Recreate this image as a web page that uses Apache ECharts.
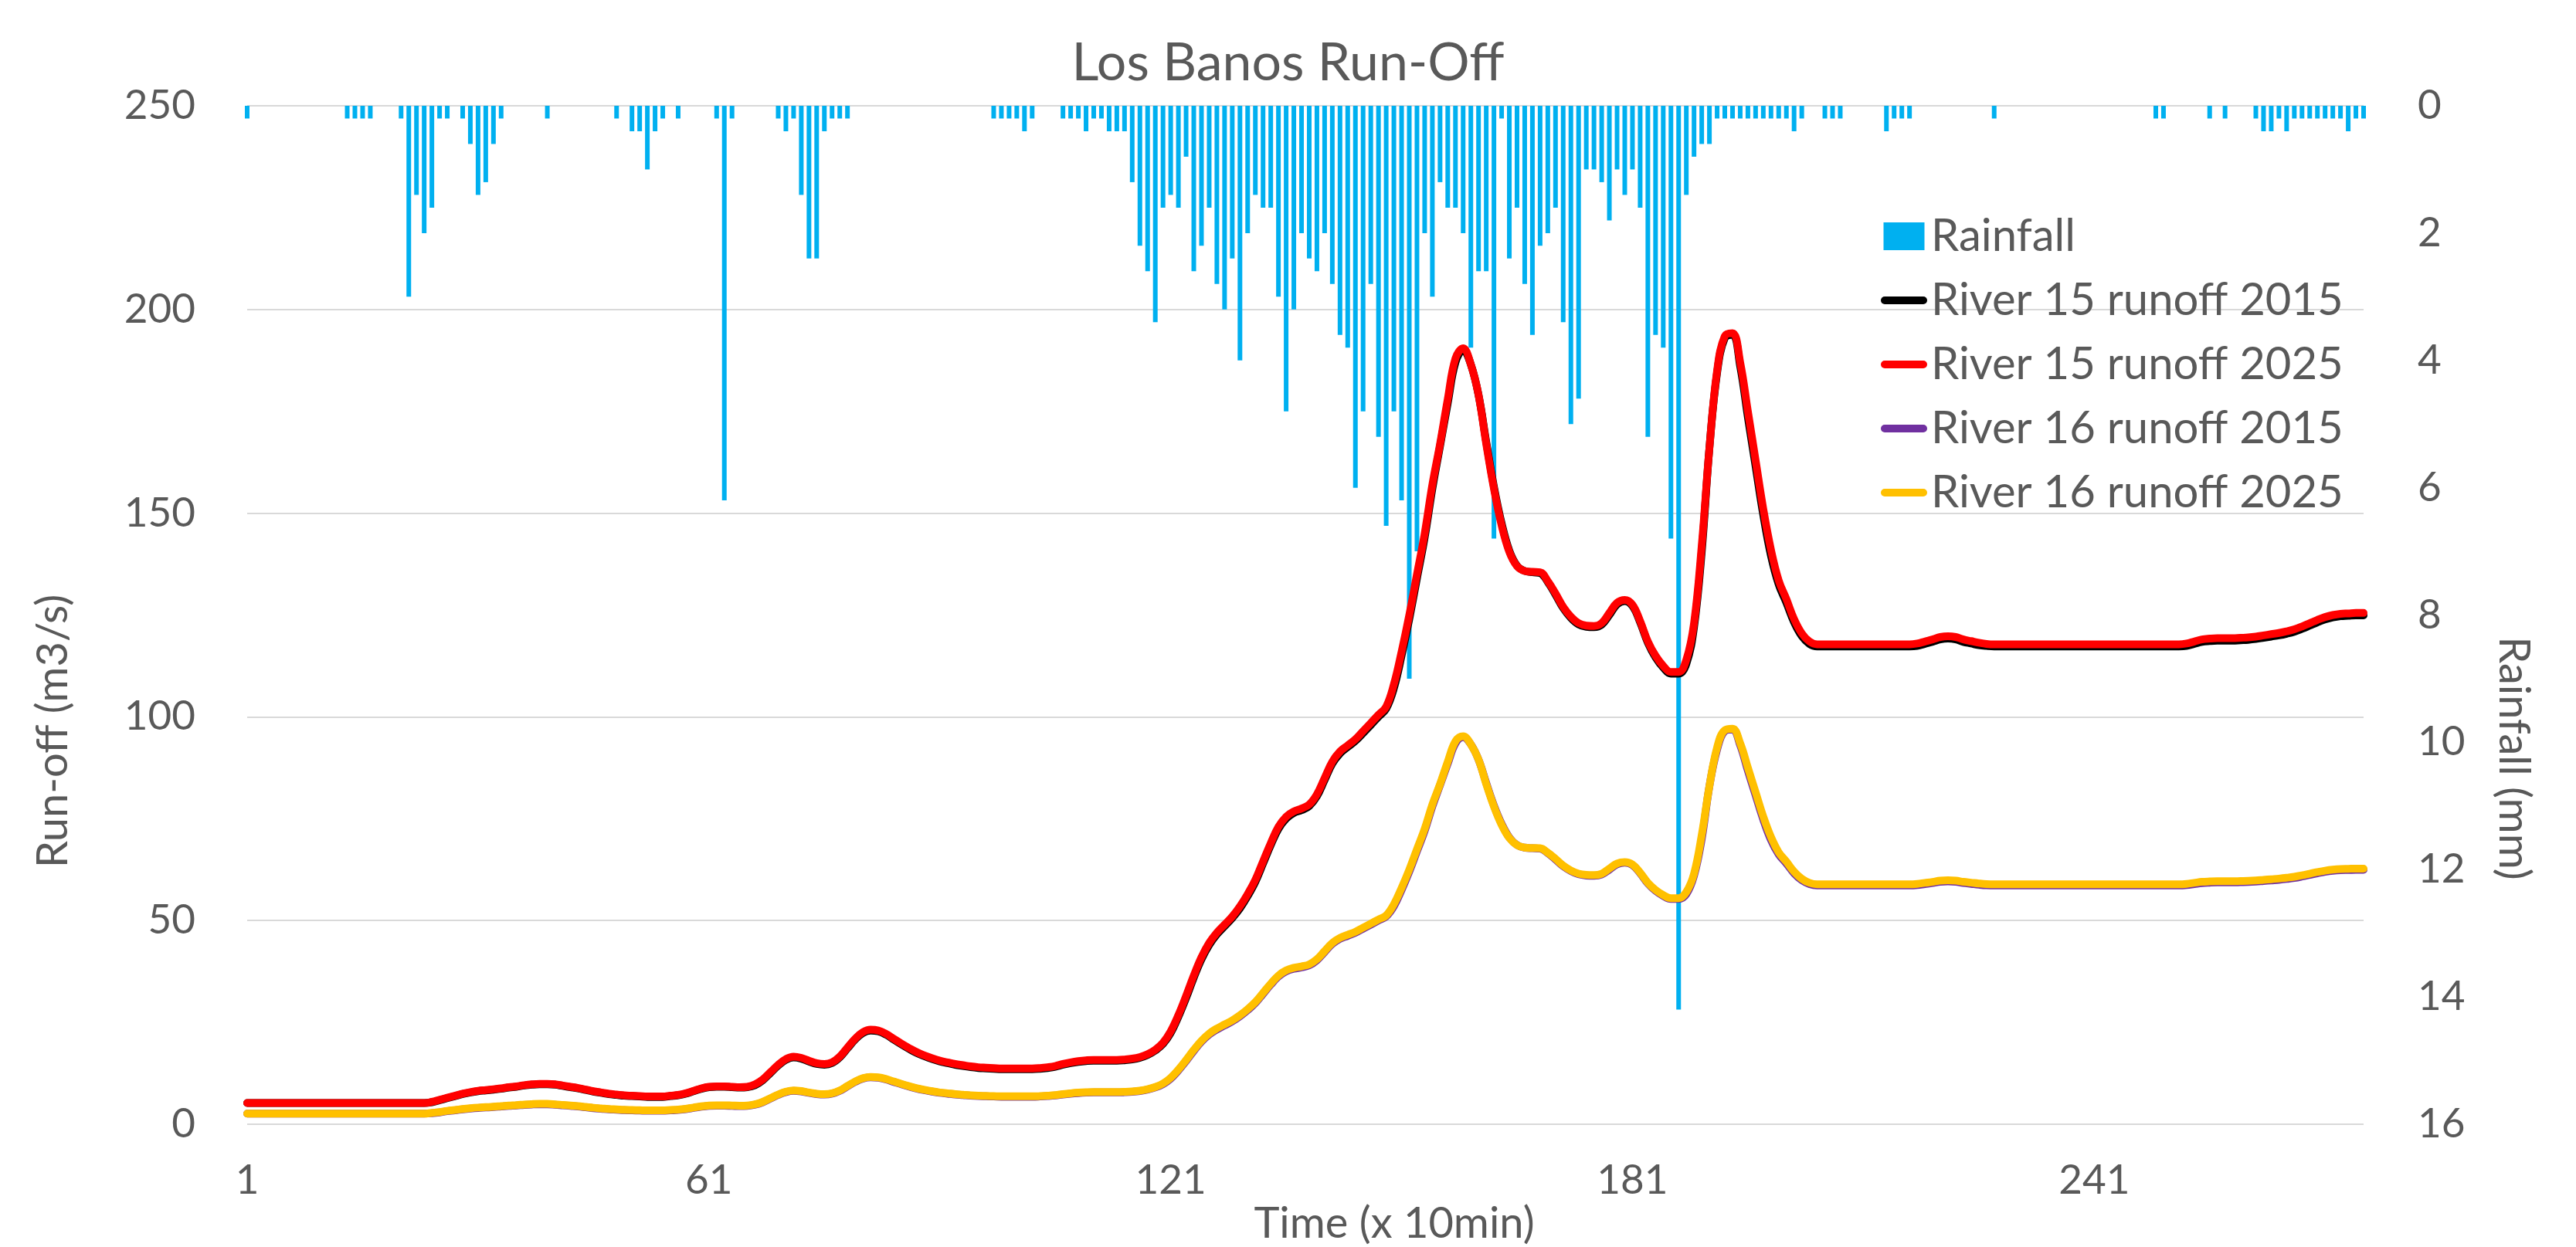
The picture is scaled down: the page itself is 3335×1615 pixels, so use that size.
<!DOCTYPE html>
<html>
<head>
<meta charset="utf-8">
<title>Los Banos Run-Off</title>
<script src="https://cdn.jsdelivr.net/npm/echarts@6/dist/echarts.min.js"></script>
<style>
  html, body { margin: 0; padding: 0; background: #fff; }
  #chart { width: 3335px; height: 1615px; }
</style>
</head>
<body>
<div id="chart"></div>
<script>
// time steps (x 10 min)
const timeSteps = Array.from({ length: 276 }, (_, i) => String(i + 1));

// rainfall per step (mm), drawn on the inverted right axis
const rainfall = [
  0.2, 0, 0, 0, 0, 0, 0, 0, 0, 0,
  0, 0, 0, 0.2, 0.2, 0.2, 0.2, 0, 0, 0,
  0.2, 3.0, 1.4, 2.0, 1.6, 0.2, 0.2, 0, 0.2, 0.6,
  1.4, 1.2, 0.6, 0.2, 0, 0, 0, 0, 0, 0.2,
  0, 0, 0, 0, 0, 0, 0, 0, 0.2, 0,
  0.4, 0.4, 1.0, 0.4, 0.2, 0, 0.2, 0, 0, 0,
  0, 0.2, 6.2, 0.2, 0, 0, 0, 0, 0, 0.2,
  0.4, 0.2, 1.4, 2.4, 2.4, 0.4, 0.2, 0.2, 0.2, 0,
  0, 0, 0, 0, 0, 0, 0, 0, 0, 0,
  0, 0, 0, 0, 0, 0, 0, 0.2, 0.2, 0.2,
  0.2, 0.4, 0.2, 0, 0, 0, 0.2, 0.2, 0.2, 0.4,
  0.2, 0.2, 0.4, 0.4, 0.4, 1.2, 2.2, 2.6, 3.4, 1.6,
  1.4, 1.6, 0.8, 2.6, 2.2, 1.6, 2.8, 3.2, 2.4, 4.0,
  2.0, 1.4, 1.6, 1.6, 3.0, 4.8, 3.2, 2.0, 2.4, 2.6,
  2.0, 2.8, 3.6, 3.8, 6.0, 4.8, 2.8, 5.2, 6.6, 4.8,
  6.2, 9.0, 7.0, 2.0, 3.0, 1.2, 1.6, 1.6, 2.0, 3.8,
  2.6, 2.6, 6.8, 0.2, 2.4, 1.6, 2.8, 3.6, 2.2, 2.0,
  1.6, 3.4, 5.0, 4.6, 1.0, 1.0, 1.2, 1.8, 1.0, 1.4,
  1.0, 1.6, 5.2, 3.6, 3.8, 6.8, 14.2, 1.4, 0.8, 0.6,
  0.6, 0.2, 0.2, 0.2, 0.2, 0.2, 0.2, 0.2, 0.2, 0.2,
  0.2, 0.4, 0.2, 0, 0, 0.2, 0.2, 0.2, 0, 0,
  0, 0, 0, 0.4, 0.2, 0.2, 0.2, 0, 0, 0,
  0, 0, 0, 0, 0, 0, 0, 0.2, 0, 0,
  0, 0, 0, 0, 0, 0, 0, 0, 0, 0,
  0, 0, 0, 0, 0, 0, 0, 0, 0.2, 0.2,
  0, 0, 0, 0, 0, 0.2, 0, 0.2, 0, 0,
  0, 0.2, 0.4, 0.4, 0.2, 0.4, 0.2, 0.2, 0.2, 0.2,
  0.2, 0.2, 0.2, 0.4, 0.2, 0.2
];

// River 15 runoff (m3/s)
const river15_2015 = [
  5.2, 5.2, 5.2, 5.2, 5.2, 5.2, 5.2, 5.2, 5.2, 5.2,
  5.2, 5.2, 5.2, 5.2, 5.2, 5.2, 5.2, 5.2, 5.2, 5.2,
  5.2, 5.2, 5.2, 5.2, 5.4, 5.9, 6.4, 6.9, 7.4, 7.8,
  8.1, 8.3, 8.5, 8.7, 9.0, 9.2, 9.5, 9.7, 9.8, 9.8,
  9.7, 9.4, 9.1, 8.8, 8.4, 8.0, 7.7, 7.4, 7.2, 7.0,
  6.9, 6.8, 6.7, 6.7, 6.7, 6.9, 7.1, 7.5, 8.1, 8.7,
  9.1, 9.2, 9.2, 9.1, 9.0, 9.1, 9.6, 10.8, 12.6, 14.4,
  15.8, 16.4, 16.1, 15.4, 14.8, 14.6, 15.0, 16.4, 18.6, 20.8,
  22.4, 23.0, 22.8, 22.0, 20.8, 19.6, 18.5, 17.5, 16.7, 16.0,
  15.4, 15.0, 14.6, 14.3, 14.0, 13.8, 13.7, 13.6, 13.5, 13.5,
  13.5, 13.5, 13.5, 13.6, 13.8, 14.1, 14.6, 15.0, 15.3, 15.5,
  15.6, 15.6, 15.6, 15.6, 15.7, 15.9, 16.3, 17.0, 18.1, 19.7,
  22.4, 26.4, 31.0, 36.0, 40.5, 44.0, 46.6, 48.6, 50.6, 53.0,
  56.0, 59.5, 64.0, 68.5, 72.5, 75.0, 76.4, 77.1, 78.1, 80.5,
  84.5, 88.5, 91.0, 92.6, 94.1, 96.0, 98.0, 100.0, 102.0, 107.0,
  115.0, 124.0, 134.0, 144.0, 156.0, 166.5, 177.0, 187.0, 190.0, 186.5,
  179.0, 167.5, 156.5, 147.5, 140.8, 137.1, 135.8, 135.5, 135.3, 133.1,
  130.0, 126.7, 124.3, 122.7, 122.1, 122.0, 122.6, 125.0, 127.6, 128.4,
  127.2, 123.2, 118.2, 114.6, 112.1, 110.6, 110.6, 113.0, 122.0, 140.5,
  166.0, 184.5, 193.0, 193.8, 186.0, 173.5, 161.5, 149.5, 139.5, 132.5,
  128.0, 123.2, 119.8, 117.9, 117.3, 117.3, 117.3, 117.3, 117.3, 117.3,
  117.3, 117.3, 117.3, 117.3, 117.3, 117.3, 117.3, 117.4, 117.9, 118.4,
  119.0, 119.2, 119.0, 118.4, 118.0, 117.6, 117.4, 117.3, 117.3, 117.3,
  117.3, 117.3, 117.3, 117.3, 117.3, 117.3, 117.3, 117.3, 117.3, 117.3,
  117.3, 117.3, 117.3, 117.3, 117.3, 117.3, 117.3, 117.3, 117.3, 117.3,
  117.3, 117.3, 117.4, 117.9, 118.4, 118.6, 118.7, 118.7, 118.7, 118.8,
  118.9, 119.1, 119.4, 119.7, 120.0, 120.4, 120.9, 121.6, 122.4, 123.2,
  123.9, 124.4, 124.7, 124.8, 124.9, 124.9
];

const river15_2025 = [
  5.2, 5.2, 5.2, 5.2, 5.2, 5.2, 5.2, 5.2, 5.2, 5.2,
  5.2, 5.2, 5.2, 5.2, 5.2, 5.2, 5.2, 5.2, 5.2, 5.2,
  5.2, 5.2, 5.2, 5.2, 5.5, 6.0, 6.5, 7.0, 7.5, 7.9,
  8.2, 8.4, 8.6, 8.8, 9.1, 9.3, 9.6, 9.8, 9.9, 9.9,
  9.8, 9.5, 9.2, 8.9, 8.5, 8.1, 7.8, 7.5, 7.3, 7.1,
  7.0, 6.9, 6.8, 6.8, 6.8, 7.0, 7.2, 7.6, 8.2, 8.8,
  9.2, 9.3, 9.3, 9.2, 9.1, 9.2, 9.8, 11.0, 12.8, 14.6,
  16.0, 16.6, 16.3, 15.6, 15.0, 14.8, 15.2, 16.6, 18.8, 21.0,
  22.6, 23.2, 23.0, 22.2, 21.0, 19.8, 18.7, 17.7, 16.9, 16.2,
  15.6, 15.2, 14.8, 14.5, 14.2, 14.0, 13.9, 13.8, 13.7, 13.7,
  13.7, 13.7, 13.7, 13.8, 14.0, 14.3, 14.8, 15.2, 15.5, 15.7,
  15.8, 15.8, 15.8, 15.8, 15.9, 16.1, 16.5, 17.2, 18.3, 20.0,
  22.8, 26.8, 31.5, 36.5, 41.0, 44.5, 47.0, 49.0, 51.0, 53.5,
  56.5, 60.0, 64.5, 69.0, 73.0, 75.5, 76.8, 77.5, 78.5, 81.0,
  85.0, 89.0, 91.5, 93.0, 94.5, 96.5, 98.5, 100.5, 102.5, 108.0,
  116.0, 125.0, 135.0, 145.0, 157.0, 167.0, 178.0, 188.0, 190.5, 186.5,
  179.0, 167.0, 156.0, 147.0, 140.5, 137.0, 135.8, 135.6, 135.5, 133.3,
  130.3, 127.0, 124.6, 123.0, 122.4, 122.3, 123.0, 125.5, 128.0, 128.7,
  127.5, 123.5, 118.5, 115.0, 112.5, 111.0, 111.0, 114.0, 123.0, 142.0,
  166.0, 185.0, 193.5, 194.2, 187.0, 175.0, 163.0, 151.0, 141.0, 133.5,
  128.9, 124.0, 120.5, 118.5, 117.8, 117.8, 117.8, 117.8, 117.8, 117.8,
  117.8, 117.8, 117.8, 117.8, 117.8, 117.8, 117.8, 118.0, 118.5, 119.0,
  119.6, 119.8, 119.6, 119.0, 118.6, 118.2, 117.9, 117.8, 117.8, 117.8,
  117.8, 117.8, 117.8, 117.8, 117.8, 117.8, 117.8, 117.8, 117.8, 117.8,
  117.8, 117.8, 117.8, 117.8, 117.8, 117.8, 117.8, 117.8, 117.8, 117.8,
  117.8, 117.8, 118.0, 118.5, 119.0, 119.2, 119.3, 119.3, 119.3, 119.4,
  119.5, 119.7, 120.0, 120.3, 120.6, 121.0, 121.5, 122.2, 123.0, 123.8,
  124.5, 125.0, 125.3, 125.4, 125.5, 125.5
];

// River 16 runoff (m3/s)
const river16_2015 = [
  2.6, 2.6, 2.6, 2.6, 2.6, 2.6, 2.6, 2.6, 2.6, 2.6,
  2.6, 2.6, 2.6, 2.6, 2.6, 2.6, 2.6, 2.6, 2.6, 2.6,
  2.6, 2.6, 2.6, 2.6, 2.7, 2.9, 3.2, 3.4, 3.65, 3.85,
  4.0, 4.1, 4.2, 4.35, 4.5, 4.6, 4.75, 4.85, 4.9, 4.9,
  4.8, 4.65, 4.5, 4.35, 4.15, 3.95, 3.8, 3.65, 3.55, 3.45,
  3.4, 3.35, 3.3, 3.3, 3.3, 3.4, 3.5, 3.7, 4.0, 4.3,
  4.5, 4.55, 4.55, 4.5, 4.45, 4.5, 4.8, 5.4, 6.3, 7.2,
  7.9, 8.2, 8.05, 7.7, 7.4, 7.3, 7.5, 8.2, 9.3, 10.4,
  11.2, 11.5, 11.4, 11.0, 10.4, 9.8, 9.25, 8.75, 8.35, 8.0,
  7.7, 7.5, 7.3, 7.15, 7.0, 6.9, 6.85, 6.8, 6.75, 6.75,
  6.75, 6.75, 6.75, 6.8, 6.9, 7.05, 7.3, 7.5, 7.65, 7.75,
  7.8, 7.8, 7.8, 7.8, 7.85, 7.95, 8.15, 8.5, 9.05, 9.85,
  11.2, 13.2, 15.5, 18.0, 20.25, 22.0, 23.25, 24.25, 25.25, 26.5,
  28.0, 29.75, 32.0, 34.25, 36.25, 37.5, 38.15, 38.5, 39.0, 40.25,
  42.25, 44.25, 45.5, 46.25, 47.0, 48.0, 49.0, 50.0, 51.0, 53.5,
  57.5, 62.0, 67.0, 72.0, 78.0, 83.25, 88.5, 93.5, 95.0, 93.25,
  89.5, 83.75, 78.25, 73.75, 70.4, 68.55, 67.9, 67.75, 67.65, 66.55,
  65.0, 63.35, 62.15, 61.35, 61.05, 61.0, 61.3, 62.5, 63.8, 64.2,
  63.6, 61.6, 59.1, 57.3, 56.05, 55.3, 55.3, 56.5, 61.0, 70.0,
  83.0, 92.0, 96.5, 96.9, 93.0, 86.75, 80.75, 74.75, 69.75, 66.25,
  64.0, 61.6, 59.9, 58.95, 58.6, 58.6, 58.6, 58.6, 58.6, 58.6,
  58.6, 58.6, 58.6, 58.6, 58.6, 58.6, 58.6, 58.7, 58.95, 59.2,
  59.5, 59.6, 59.5, 59.2, 59.0, 58.8, 58.65, 58.6, 58.6, 58.6,
  58.6, 58.6, 58.6, 58.6, 58.6, 58.6, 58.6, 58.6, 58.6, 58.6,
  58.6, 58.6, 58.6, 58.6, 58.6, 58.6, 58.6, 58.6, 58.6, 58.6,
  58.6, 58.6, 58.7, 58.95, 59.2, 59.3, 59.35, 59.35, 59.35, 59.4,
  59.45, 59.55, 59.7, 59.85, 60.0, 60.2, 60.45, 60.8, 61.2, 61.6,
  61.95, 62.2, 62.35, 62.4, 62.45, 62.45
];

const river16_2025 = [
  2.6, 2.6, 2.6, 2.6, 2.6, 2.6, 2.6, 2.6, 2.6, 2.6,
  2.6, 2.6, 2.6, 2.6, 2.6, 2.6, 2.6, 2.6, 2.6, 2.6,
  2.6, 2.6, 2.6, 2.6, 2.8, 3.0, 3.3, 3.5, 3.75, 3.95,
  4.1, 4.2, 4.3, 4.45, 4.6, 4.7, 4.85, 4.95, 5.0, 5.0,
  4.9, 4.75, 4.6, 4.45, 4.25, 4.05, 3.9, 3.75, 3.65, 3.55,
  3.5, 3.45, 3.4, 3.4, 3.4, 3.5, 3.6, 3.8, 4.1, 4.4,
  4.6, 4.65, 4.65, 4.6, 4.55, 4.6, 4.9, 5.5, 6.4, 7.3,
  8.0, 8.3, 8.15, 7.8, 7.5, 7.4, 7.6, 8.3, 9.4, 10.5,
  11.3, 11.6, 11.5, 11.1, 10.5, 9.9, 9.35, 8.85, 8.45, 8.1,
  7.8, 7.6, 7.4, 7.25, 7.1, 7.0, 6.95, 6.9, 6.85, 6.85,
  6.85, 6.85, 6.85, 6.9, 7.0, 7.15, 7.4, 7.6, 7.75, 7.85,
  7.9, 7.9, 7.9, 7.9, 7.95, 8.05, 8.25, 8.6, 9.15, 10.0,
  11.4, 13.4, 15.75, 18.25, 20.5, 22.25, 23.5, 24.5, 25.5, 26.75,
  28.25, 30.0, 32.25, 34.5, 36.5, 37.75, 38.4, 38.75, 39.25, 40.5,
  42.5, 44.5, 45.75, 46.5, 47.25, 48.25, 49.25, 50.25, 51.25, 54.0,
  58.0, 62.5, 67.5, 72.5, 78.5, 83.5, 89.0, 94.0, 95.25, 93.25,
  89.5, 83.5, 78.0, 73.5, 70.25, 68.5, 67.9, 67.8, 67.75, 66.65,
  65.15, 63.5, 62.3, 61.5, 61.2, 61.15, 61.5, 62.75, 64.0, 64.35,
  63.75, 61.75, 59.25, 57.5, 56.25, 55.5, 55.5, 57.0, 61.5, 71.0,
  83.0, 92.5, 96.75, 97.1, 93.5, 87.5, 81.5, 75.5, 70.5, 66.75,
  64.45, 62.0, 60.25, 59.25, 58.9, 58.9, 58.9, 58.9, 58.9, 58.9,
  58.9, 58.9, 58.9, 58.9, 58.9, 58.9, 58.9, 59.0, 59.25, 59.5,
  59.8, 59.9, 59.8, 59.5, 59.3, 59.1, 58.95, 58.9, 58.9, 58.9,
  58.9, 58.9, 58.9, 58.9, 58.9, 58.9, 58.9, 58.9, 58.9, 58.9,
  58.9, 58.9, 58.9, 58.9, 58.9, 58.9, 58.9, 58.9, 58.9, 58.9,
  58.9, 58.9, 59.0, 59.25, 59.5, 59.6, 59.65, 59.65, 59.65, 59.7,
  59.75, 59.85, 60.0, 60.15, 60.3, 60.5, 60.75, 61.1, 61.5, 61.9,
  62.25, 62.5, 62.65, 62.7, 62.75, 62.75
];

// axis ticks
const runoffTicks = { min: 0, max: 250, step: 50 };
const rainTicks = { min: 0, max: 16, step: 2 };

const FONT = 'Lato';
const TEXT_COLOR = '#595959';
const GRID_COLOR = '#d9d9d9';

// legend icons: a filled block for the bars, a thick rounded stroke for the lines
const BAR_ICON = 'path://M0,0 L53,0 L53,36 L0,36 Z';
const LINE_ICON = 'path://M5,0 L55,0 A5,5 0 0 1 55,10 L5,10 A5,5 0 0 1 5,0 Z';

function runoffLine(name, data, color) {
  return {
    name: name,
    type: 'line',
    yAxisIndex: 0,
    data: data,
    smooth: 0.4,
    symbol: 'none',
    showSymbol: false,
    lineStyle: { color: color, width: 10, cap: 'round', join: 'round' },
    itemStyle: { color: color },
    z: 3
  };
}

const chart = echarts.init(document.getElementById('chart'), null, { renderer: 'canvas' });

const option = {
  animation: false,
  backgroundColor: '#ffffff',
  title: {
    text: 'Los Banos Run-Off',
    left: 'center',
    top: 43,
    textStyle: { fontFamily: FONT, fontSize: 68, fontWeight: 'normal', color: TEXT_COLOR }
  },
  legend: {
    orient: 'vertical',
    left: 2430,
    top: 272,
    itemWidth: 60,
    itemHeight: 36,
    itemGap: 25,
    symbolKeepAspect: true,
    textStyle: { fontFamily: FONT, fontSize: 58, color: TEXT_COLOR },
    data: [
      { name: 'Rainfall', icon: BAR_ICON },
      { name: 'River 15 runoff 2015', icon: LINE_ICON },
      { name: 'River 15 runoff 2025', icon: LINE_ICON },
      { name: 'River 16 runoff 2015', icon: LINE_ICON },
      { name: 'River 16 runoff 2025', icon: LINE_ICON }
    ]
  },
  grid: { left: 320, right: 275, top: 137, bottom: 159, containLabel: false },
  xAxis: {
    type: 'category',
    data: timeSteps,
    boundaryGap: false,
    axisLine: { show: false },
    axisTick: { show: false },
    axisLabel: {
      interval: 59,
      margin: 46,
      fontFamily: FONT,
      fontSize: 53,
      color: TEXT_COLOR
    },
    splitLine: { show: false }
  },
  yAxis: [
    {
      type: 'value',
      min: runoffTicks.min,
      max: runoffTicks.max,
      interval: runoffTicks.step,
      axisLine: { show: false },
      axisTick: { show: false },
      axisLabel: { margin: 67, fontFamily: FONT, fontSize: 53, color: TEXT_COLOR },
      splitLine: { show: true, lineStyle: { color: GRID_COLOR, width: 2 } }
    },
    {
      type: 'value',
      position: 'right',
      inverse: true,
      min: rainTicks.min,
      max: rainTicks.max,
      interval: rainTicks.step,
      axisLine: { show: false },
      axisTick: { show: false },
      axisLabel: { margin: 70, fontFamily: FONT, fontSize: 53, color: TEXT_COLOR },
      splitLine: { show: false }
    }
  ],
  graphic: [
    {
      type: 'text',
      x: 69, y: 947,
      rotation: Math.PI / 2,
      style: {
        text: 'Run-off (m3/s)', fontFamily: FONT, fontSize: 56, fill: TEXT_COLOR,
        align: 'center', verticalAlign: 'middle'
      }
    },
    {
      type: 'text',
      x: 3254, y: 982,
      rotation: -Math.PI / 2,
      style: {
        text: 'Rainfall (mm)', fontFamily: FONT, fontSize: 56, fill: TEXT_COLOR,
        align: 'center', verticalAlign: 'middle'
      }
    },
    {
      type: 'text',
      x: 1805, y: 1585,
      style: {
        text: 'Time (x 10min)', fontFamily: FONT, fontSize: 56, fill: TEXT_COLOR,
        align: 'center', verticalAlign: 'middle'
      }
    }
  ],
  series: [
    {
      name: 'Rainfall',
      type: 'bar',
      yAxisIndex: 1,
      data: rainfall,
      barWidth: 6,
      itemStyle: { color: '#00b0f0' },
      z: 1
    },
    runoffLine('River 15 runoff 2015', river15_2015, '#000000'),
    runoffLine('River 15 runoff 2025', river15_2025, '#ff0000'),
    runoffLine('River 16 runoff 2015', river16_2015, '#7030a0'),
    runoffLine('River 16 runoff 2025', river16_2025, '#ffc000')
  ]
};

chart.setOption(option);

window.addEventListener('resize', function () {
  chart.resize();
});
</script>
</body>
</html>
